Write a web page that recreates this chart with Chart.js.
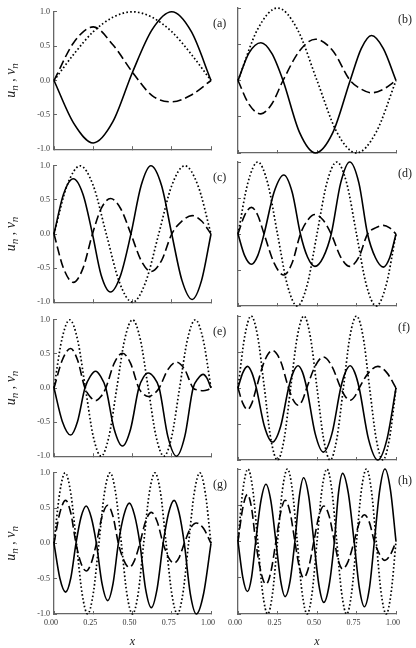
<!DOCTYPE html>
<html>
<head>
<meta charset="utf-8">
<title>modes</title>
<script src="https://cdn.jsdelivr.net/npm/chart.js@4.4.0/dist/chart.umd.min.js"></script>
<style>
  html, body { margin: 0; padding: 0; background: #fff; }
  body { width: 416px; height: 648px; position: relative; overflow: hidden; }
  canvas { position: absolute; }
</style>
</head>
<body>
<script>
// values: u_n solid, v_n dashed, dotted reference curve

// (a)
const xA = [0, 0.125, 0.25, 0.375, 0.5, 0.625, 0.75, 0.875, 1];
const uA = [0, -0.62, -0.91, -0.60, 0.12, 0.74, 1.0, 0.71, 0];
const vA = [0, 0.55, 0.78, 0.52, 0.12, -0.22, -0.31, -0.21, 0];
const dA = [0, 0.38, 0.71, 0.92, 1, 0.92, 0.71, 0.38, 0];

// (b)
const xB = [0, 0.07, 0.145, 0.215, 0.285, 0.39, 0.49, 0.60, 0.71, 0.78, 0.845, 0.92, 1];
const uB = [0, 0.38, 0.52, 0.37, 0, -0.72, -1.0, -0.72, 0, 0.44, 0.62, 0.44, 0];
const vB = [0, -0.33, -0.46, -0.32, 0, 0.41, 0.57, 0.41, 0, -0.12, -0.17, -0.12, 0];
const xdB = [0, 0.125, 0.25, 0.375, 0.5, 0.625, 0.75, 0.875, 1];
const dB = [0, 0.71, 1, 0.71, 0, -0.71, -1, -0.71, 0];

// (c)
const xC = [0, 0.06, 0.123, 0.185, 0.245, 0.30, 0.36, 0.425, 0.49, 0.555, 0.617, 0.685, 0.75, 0.815, 0.88, 0.94, 1];
const uC = [0, 0.58, 0.81, 0.58, 0, -0.60, -0.85, -0.60, 0, 0.71, 1.0, 0.71, 0, -0.68, -0.96, -0.68, 0];
const vC = [0, -0.50, -0.71, -0.50, 0, 0.37, 0.52, 0.37, 0, -0.39, -0.55, -0.39, 0, 0.19, 0.27, 0.19, 0];
const xdC = [0, 0.083, 0.167, 0.25, 0.333, 0.417, 0.5, 0.583, 0.667, 0.75, 0.833, 0.917, 1];
const dC = [0, 0.71, 1, 0.71, 0, -0.71, -1, -0.71, 0, 0.71, 1, 0.71, 0];

// (d)
const xD = [0, 0.042, 0.085, 0.125, 0.165, 0.228, 0.29, 0.343, 0.395, 0.44, 0.487, 0.54, 0.59, 0.65, 0.707, 0.765, 0.82, 0.87, 0.92, 0.96, 1];
const uD = [0, -0.30, -0.42, -0.30, 0, 0.58, 0.82, 0.58, 0, -0.32, -0.45, -0.32, 0, 0.71, 1.0, 0.71, 0, -0.33, -0.46, -0.33, 0];
const vD = [0, 0.26, 0.37, 0.26, 0, -0.40, -0.57, -0.40, 0, 0.19, 0.27, 0.19, 0, -0.32, -0.45, -0.32, 0, 0.085, 0.12, 0.085, 0];
const xdD = [0, 0.0625, 0.125, 0.1875, 0.25, 0.3125, 0.375, 0.4375, 0.5, 0.5625, 0.625, 0.6875, 0.75, 0.8125, 0.875, 0.9375, 1];
const dD = [0, 0.71, 1, 0.71, 0, -0.71, -1, -0.71, 0, 0.71, 1, 0.71, 0, -0.71, -1, -0.71, 0];

// (e)
const xE = [0, 0.053, 0.106, 0.15, 0.197, 0.231, 0.265, 0.297, 0.33, 0.383, 0.436, 0.488, 0.54, 0.57, 0.60, 0.635, 0.67, 0.725, 0.78, 0.833, 0.886, 0.918, 0.95, 0.975, 1];
const uE = [0, -0.49, -0.69, -0.49, 0, 0.17, 0.245, 0.17, 0, -0.60, -0.85, -0.60, 0, 0.16, 0.22, 0.16, 0, -0.71, -1.0, -0.71, 0, 0.14, 0.20, 0.14, 0];
const vE = [0, 0.41, 0.58, 0.41, 0, -0.13, -0.185, -0.13, 0, 0.36, 0.51, 0.36, 0, -0.09, -0.125, -0.09, 0, 0.27, 0.38, 0.27, 0, -0.03, -0.04, -0.03, 0];
const xdE = [0, 0.05, 0.1, 0.15, 0.2, 0.25, 0.3, 0.35, 0.4, 0.45, 0.5, 0.55, 0.6, 0.65, 0.7, 0.75, 0.8, 0.85, 0.9, 0.95, 1];
const dE = [0, 0.71, 1, 0.71, 0, -0.71, -1, -0.71, 0, 0.71, 1, 0.71, 0, -0.71, -1, -0.71, 0, 0.71, 1, 0.71, 0];

// (f)
const xF = [0, 0.03, 0.06, 0.088, 0.116, 0.167, 0.218, 0.27, 0.32, 0.35, 0.38, 0.408, 0.435, 0.488, 0.54, 0.595, 0.65, 0.68, 0.71, 0.738, 0.767, 0.826, 0.885, 0.943, 1];
const uF = [0, 0.21, 0.30, 0.21, 0, -0.53, -0.75, -0.53, 0, 0.22, 0.31, 0.22, 0, -0.63, -0.89, -0.63, 0, 0.22, 0.31, 0.22, 0, -0.71, -1.0, -0.71, 0];
const vF = [0, -0.21, -0.30, -0.21, 0, 0.37, 0.52, 0.37, 0, -0.17, -0.24, -0.17, 0, 0.30, 0.43, 0.30, 0, -0.12, -0.17, -0.12, 0, 0.21, 0.30, 0.21, 0];
const xdF = [0, 0.042, 0.083, 0.125, 0.167, 0.208, 0.25, 0.292, 0.333, 0.375, 0.417, 0.458, 0.5, 0.542, 0.583, 0.625, 0.667, 0.708, 0.75, 0.792, 0.833, 0.875, 0.917, 0.958, 1];
const dF = [0, 0.71, 1, 0.71, 0, -0.71, -1, -0.71, 0, 0.71, 1, 0.71, 0, -0.71, -1, -0.71, 0, 0.71, 1, 0.71, 0, -0.71, -1, -0.71, 0];

// (g)
const xG = [0, 0.037, 0.074, 0.107, 0.14, 0.172, 0.205, 0.237, 0.27, 0.306, 0.342, 0.376, 0.41, 0.445, 0.48, 0.513, 0.547, 0.583, 0.62, 0.657, 0.695, 0.73, 0.765, 0.797, 0.83, 0.868, 0.907, 0.953, 1];
const uG = [0, -0.49, -0.69, -0.49, 0, 0.37, 0.53, 0.37, 0, -0.57, -0.81, -0.57, 0, 0.40, 0.57, 0.40, 0, -0.64, -0.91, -0.64, 0, 0.43, 0.61, 0.43, 0, -0.71, -1.0, -0.71, 0];
const vG = [0, 0.43, 0.61, 0.43, 0, -0.28, -0.39, -0.28, 0, 0.38, 0.54, 0.38, 0, -0.24, -0.34, -0.24, 0, 0.31, 0.44, 0.31, 0, -0.20, -0.28, -0.20, 0, 0.21, 0.29, 0.21, 0];
const xdG = [0, 0.036, 0.071, 0.107, 0.143, 0.179, 0.214, 0.25, 0.286, 0.321, 0.357, 0.393, 0.429, 0.464, 0.5, 0.536, 0.571, 0.607, 0.643, 0.679, 0.714, 0.75, 0.786, 0.821, 0.857, 0.893, 0.929, 0.964, 1];
const dG = [0, 0.71, 1, 0.71, 0, -0.71, -1, -0.71, 0, 0.71, 1, 0.71, 0, -0.71, -1, -0.71, 0, 0.71, 1, 0.71, 0, -0.71, -1, -0.71, 0, 0.71, 1, 0.71, 0];

// (h)
const xH = [0, 0.03, 0.06, 0.086, 0.112, 0.145, 0.177, 0.208, 0.24, 0.27, 0.298, 0.33, 0.36, 0.388, 0.415, 0.448, 0.48, 0.512, 0.543, 0.577, 0.61, 0.636, 0.662, 0.698, 0.735, 0.768, 0.80, 0.832, 0.863, 0.897, 0.93, 0.965, 1];
const uH = [0, -0.49, -0.69, -0.49, 0, 0.56, 0.79, 0.56, 0, -0.54, -0.76, -0.54, 0, 0.62, 0.88, 0.62, 0, -0.60, -0.84, -0.60, 0, 0.67, 0.94, 0.67, 0, -0.64, -0.90, -0.64, 0, 0.71, 1.0, 0.71, 0];
const vH = [0, 0.46, 0.65, 0.46, 0, -0.42, -0.59, -0.42, 0, 0.40, 0.57, 0.40, 0, -0.35, -0.50, -0.35, 0, 0.35, 0.49, 0.35, 0, -0.27, -0.38, -0.27, 0, 0.26, 0.37, 0.26, 0, -0.18, -0.26, -0.18, 0];
const xdH = [0, 0.031, 0.063, 0.094, 0.125, 0.156, 0.188, 0.219, 0.25, 0.281, 0.313, 0.344, 0.375, 0.406, 0.438, 0.469, 0.5, 0.531, 0.563, 0.594, 0.625, 0.656, 0.688, 0.719, 0.75, 0.781, 0.813, 0.844, 0.875, 0.906, 0.938, 0.969, 1];
const dH = [0, 0.71, 1, 0.71, 0, -0.71, -1, -0.71, 0, 0.71, 1, 0.71, 0, -0.71, -1, -0.71, 0, 0.71, 1, 0.71, 0, -0.71, -1, -0.71, 0, 0.71, 1, 0.71, 0, -0.71, -1, -0.71, 0];

const panelNames = ["(a)", "(b)", "(c)", "(d)", "(e)", "(f)", "(g)", "(h)"];
const xTitle = "x";
// y title "u_n , v_n": pieces with subscripts
const yTitleParts = [["u", 0], ["n", 1], [" , ", 0], ["v", 0], ["n", 1]];

const panels = [
  { x: xA, u: uA, v: vA, xd: xA, d: dA },
  { x: xB, u: uB, v: vB, xd: xdB, d: dB },
  { x: xC, u: uC, v: vC, xd: xdC, d: dC },
  { x: xD, u: uD, v: vD, xd: xdD, d: dD },
  { x: xE, u: uE, v: vE, xd: xdE, d: dE },
  { x: xF, u: uF, v: vF, xd: xdF, d: dF },
  { x: xG, u: uG, v: vG, xd: xdG, d: dG },
  { x: xH, u: uH, v: vH, xd: xdH, d: dH },
];

// page layout (pixels)
const rowTop = [8, 162, 316, 469];
const rowBottom = [153, 306, 460, 614];
const plotLeft = [54, 238];
const plotRight = [211, 396];
const canvasLeft = [0, 222];
const canvasWidth = [232, 194];
const axisColor = "#666";

Chart.defaults.font.family = "'Liberation Serif', 'Times New Roman', serif";
Chart.defaults.color = "#333";

const pts = (xs, ys) => xs.map((x, i) => ({ x: x, y: ys[i] }));

// panel letter at the upper right of each plot
const panelLabel = {
  id: "panelLabel",
  afterDraw(chart, args, opts) {
    const ctx = chart.ctx;
    const area = chart.chartArea;
    ctx.save();
    ctx.font = "12px 'Liberation Serif'";
    ctx.fillStyle = "#222";
    ctx.textAlign = "left";
    ctx.textBaseline = "middle";
    ctx.fillText(opts.text, area.right + 2, area.top + 12);
    ctx.restore();
  }
};

// rotated y title with real subscripts
const yLabel = {
  id: "yLabel",
  afterDraw(chart, args, opts) {
    if (!opts.show) return;
    const ctx = chart.ctx;
    const area = chart.chartArea;
    ctx.save();
    ctx.translate(15, (area.top + area.bottom) / 2);
    ctx.rotate(-Math.PI / 2);
    ctx.fillStyle = "#222";
    ctx.textBaseline = "alphabetic";
    ctx.textAlign = "left";
    const fontFor = (sub) => "italic " + (sub ? 11 : 14) + "px 'Liberation Serif'";
    let total = 0;
    yTitleParts.forEach(([t, sub]) => { ctx.font = fontFor(sub); total += ctx.measureText(t).width; });
    let pos = -total / 2;
    yTitleParts.forEach(([t, sub]) => {
      ctx.font = fontFor(sub);
      ctx.fillText(t, pos, sub ? 3 : 0);
      pos += ctx.measureText(t).width;
    });
    ctx.restore();
  }
};

panels.forEach((p, i) => {
  const row = Math.floor(i / 2);
  const col = i % 2;
  const last = row === 3;

  const top = rowTop[row] - 8;
  const height = last ? 648 - top : rowBottom[row] - rowTop[row] + 16;
  const yW = plotLeft[col] - canvasLeft[col];
  const xHt = last ? 648 - rowBottom[row] : 1;
  const padBottom = last ? 0 : top + height - rowBottom[row] - xHt;
  const padRight = canvasLeft[col] + canvasWidth[col] - plotRight[col];

  const cv = document.createElement("canvas");
  cv.width = canvasWidth[col];
  cv.height = height;
  cv.style.left = canvasLeft[col] + "px";
  cv.style.top = top + "px";
  document.body.appendChild(cv);

  new Chart(cv.getContext("2d"), {
    type: "line",
    data: {
      datasets: [
        { data: pts(p.xd, p.d), borderColor: "#000", borderWidth: 1.7, borderDash: [1.6, 2.3] },
        { data: pts(p.x, p.v), borderColor: "#000", borderWidth: 1.6, borderDash: [9, 4] },
        { data: pts(p.x, p.u), borderColor: "#000", borderWidth: 1.6 },
      ],
    },
    options: {
      responsive: false,
      animation: false,
      layout: { padding: { top: 8, left: 0, right: padRight, bottom: padBottom } },
      elements: {
        point: { radius: 0 },
        line: { cubicInterpolationMode: "monotone", fill: false, borderJoinStyle: "round" },
      },
      datasets: { line: { clip: 4 } },
      plugins: {
        legend: { display: false },
        tooltip: { enabled: false },
        panelLabel: { text: panelNames[i] },
        yLabel: { show: col === 0 },
      },
      scales: {
        x: {
          type: "linear",
          min: 0,
          max: 1,
          afterFit: (s) => { s.height = xHt; },
          border: { display: true, color: axisColor, width: 1.3 },
          grid: { drawOnChartArea: false, drawTicks: true, tickLength: -3, color: axisColor, lineWidth: 1 },
          ticks: {
            display: last,
            stepSize: 0.25,
            padding: 7,
            labelOffset: -3,
            maxRotation: 0,
            autoSkip: false,
            font: { size: 8 },
            callback: (v) => v.toFixed(2),
          },
          title: {
            display: last,
            text: xTitle,
            color: "#222",
            padding: 0,
            font: { size: 12, style: "italic", lineHeight: 1 },
          },
        },
        y: {
          min: -1,
          max: 1,
          afterFit: (s) => { s.width = yW; },
          border: { display: true, color: axisColor, width: 1.3 },
          grid: { drawOnChartArea: false, drawTicks: true, tickLength: -3, color: axisColor, lineWidth: 1 },
          ticks: {
            display: col === 0,
            stepSize: 0.5,
            padding: 7,
            font: { size: 8 },
            callback: (v) => v.toFixed(1),
          },
        },
      },
    },
    plugins: [panelLabel, yLabel],
  });
});
</script>
</body>
</html>
